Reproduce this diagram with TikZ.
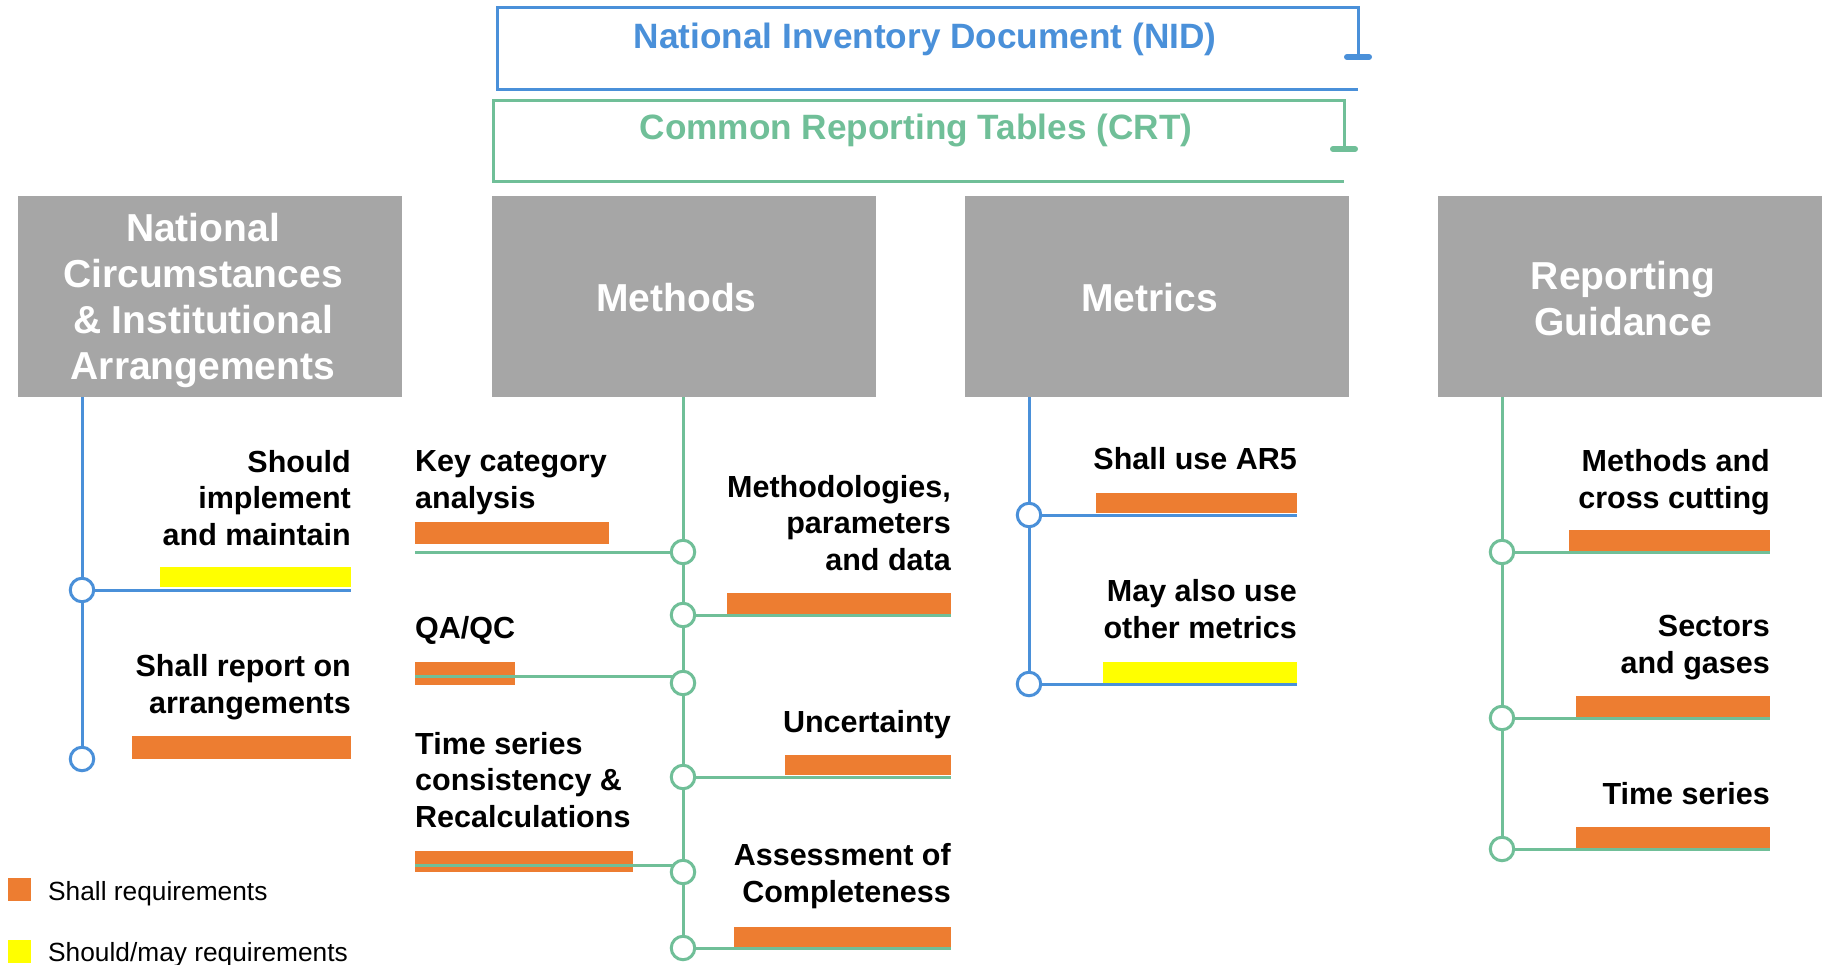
\documentclass[tikz,border=0pt]{standalone}
\usepackage{fontspec}
\setmainfont{Liberation Sans}
\pgfdeclarelayer{bg}
\pgfsetlayers{bg,main}

\definecolor{blueL}{RGB}{74,144,217}
\definecolor{greenL}{RGB}{112,191,152}
\definecolor{orng}{RGB}{237,125,49}
\definecolor{yel}{RGB}{255,255,0}
\definecolor{hgrey}{RGB}{166,166,166}

\newcommand\hdrfont{\bfseries\fontsize{39}{46}\selectfont}
\newcommand\itmfont{\bfseries\fontsize{30.5}{36.5}\selectfont}
\newcommand\ttlfont{\bfseries\fontsize{35.2}{40}\selectfont}
\newcommand\legfont{\fontsize{26.3}{30}\selectfont}

\begin{document}
\begin{tikzpicture}[x=1pt,y=-1pt,
  hbox/.style={fill=hgrey, inner sep=0pt, minimum width=384pt, minimum height=201pt},
  htext/.style={text=white, font=\hdrfont, align=center, inner sep=0pt},
  % multi-line labels: the base anchor sits on the last line
  lblR/.style={anchor=base east, align=right, font=\itmfont, inner sep=0pt},
  lblL/.style={anchor=base west, align=left, font=\itmfont, inner sep=0pt},
  knotB/.style={circle, draw=blueL, fill=white, line width=3pt,
    minimum size=23.5pt, inner sep=0pt},
  knotG/.style={circle, draw=greenL, fill=white, line width=3pt,
    minimum size=23.5pt, inner sep=0pt},
  bline/.style={draw=blueL, line width=3pt},
  gline/.style={draw=greenL, line width=3pt},
  tick/.style={line width=6pt, line cap=round},
  legsq/.style={minimum size=23pt, inner sep=0pt, anchor=north west}]

\useasboundingbox (0,0) rectangle (1822,965);

% ---- document frames at the top ----
\draw[blueL, line width=3pt] (1358,57) -- (1358,8) -- (497,8) -- (497,90) -- (1358,90);
\draw[blueL, tick] (1347,57) -- (1369,57);
\node[anchor=base, font=\ttlfont, text=blueL, inner sep=0pt] (nid) at (925,49)
  {National Inventory Document (NID)};

\draw[greenL, line width=3pt] (1344,149) -- (1344,101) -- (493,101) -- (493,182) -- (1344,182);
\draw[greenL, tick] (1333,149) -- (1355,149);
\node[anchor=base, font=\ttlfont, text=greenL, inner sep=0pt] (crt) at (916,140)
  {Common Reporting Tables (CRT)};

% ---- column headers ----
\node[hbox] (nc)  at (210,296.5) {};
\node[hbox] (met) at (683.5,296.5) {};
\node[hbox] (mtr) at (1156.5,296.5) {};
\node[hbox, minimum width=385pt] (rg) at (1630,296.5) {};

\node[htext] (nct) at ([shift={(-7,4)}]nc.center) {National\\Circumstances\\\& Institutional\\Arrangements};
\node[htext] (mett) at ([shift={(-7,1)}]met.center) {Methods};
\node[htext] (mtrt) at ([shift={(-7,1)}]mtr.center) {Metrics};
\node[htext] (rgt) at ([shift={(-7,2)}]rg.center) {Reporting\\Guidance};

% ---- junction circles ----
\node[knotB] (a1) at (82,590) {};
\node[knotB] (a2) at (82,759) {};

\node[knotG] (m1) at (683,552) {};
\node[knotG] (m2) at (683,615) {};
\node[knotG] (m3) at (683,683) {};
\node[knotG] (m4) at (683,777) {};
\node[knotG] (m5) at (683,872) {};
\node[knotG] (m6) at (683,948) {};

\node[knotB] (t1) at (1029,515) {};
\node[knotB] (t2) at (1029,684) {};

\node[knotG] (r1) at (1502,552) {};
\node[knotG] (r2) at (1502,718) {};
\node[knotG] (r3) at (1502,849) {};

% ---- line ends ----
\coordinate (aR) at (351,0);
\coordinate (mR) at (951,0);
\coordinate (tR) at (1297,0);
\coordinate (rR) at (1770,0);
\coordinate (kcaL) at (415,552);
\coordinate (qaL)  at (415,676);
\coordinate (tsL)  at (415,865);

% ---- labels (positions give the last baseline) ----
\node[lblR] (l1) at (351,545) {Should\\implement\\and maintain};
\node[lblR] (l2) at (351,713) {Shall report on\\arrangements};

\node[lblL] (l3) at (415,508) {Key category\\analysis};
\node[lblR] (l4) at (951,570) {Methodologies,\\parameters\\and data};
\node[lblL] (l5) at (415,638) {QA/QC};
\node[lblR] (l6) at (951,732) {Uncertainty};
\node[lblL] (l7) at (415,827) {Time series\\consistency \&\\Recalculations};
\node[lblR] (l8) at (951,902) {Assessment of\\Completeness};

\node[lblR] (l9)  at (1297,469) {Shall use AR5};
\node[lblR] (l10) at (1297,638) {May also use\\other metrics};

\node[lblR] (l11) at (1770,508) {Methods and\\cross cutting};
\node[lblR] (l12) at (1770,673) {Sectors\\and gases};
\node[lblR] (l13) at (1770,804) {Time series};

% ---- legend ----
\node[legsq, fill=orng] (lgo) at (8,878) {};
\node[legsq, fill=yel]  (lgy) at (8,940) {};
\node[anchor=base west, font=\legfont, inner sep=0pt] (lg1) at (48,900) {Shall requirements};
\node[anchor=base west, font=\legfont, inner sep=0pt] (lg2) at (48,961) {Should/may requirements};

\begin{pgfonlayer}{bg}
  % requirement bars
  \fill[yel]  (160,567) rectangle (351,587);
  \fill[orng] (132,736) rectangle (351,759);

  \fill[orng] (415,522) rectangle (609,544);
  \fill[orng] (727,593) rectangle (951,614);
  \fill[orng] (415,662) rectangle (515,685);
  \fill[orng] (785,755) rectangle (951,775);
  \fill[orng] (415,851) rectangle (633,872);
  \fill[orng] (734,927) rectangle (951,947);

  \fill[orng] (1096,493) rectangle (1297,513);
  \fill[yel]  (1103,662) rectangle (1297,683);

  \fill[orng] (1569,530) rectangle (1770,552);
  \fill[orng] (1576,696) rectangle (1770,718);
  \fill[orng] (1576,827) rectangle (1770,848);

  % trunks
  \draw[bline] (nc.south -| a1) -- (a2.center);
  \draw[gline] (met.south -| m1) -- (m6.center);
  \draw[bline] (mtr.south -| t1) -- (t2.center);
  \draw[gline] (rg.south -| r1) -- (r3.center);

  % branches
  \draw[bline] (a1.center) -- (a1 -| aR);

  \draw[gline] (kcaL) -- (m1.center);
  \draw[gline] (m2.center) -- (m2 -| mR);
  \draw[gline] (qaL) -- (qaL -| m3);
  \draw[gline] (m4.center) -- (m4 -| mR);
  \draw[gline] (tsL) -- (tsL -| m5);
  \draw[gline] (m6.center) -- (m6 -| mR);

  \draw[bline] (t1.center) -- (t1 -| tR);
  \draw[bline] (t2.center) -- (t2 -| tR);

  \draw[gline] (r1.center) -- (r1 -| rR);
  \draw[gline] (r2.center) -- (r2 -| rR);
  \draw[gline] (r3.center) -- (r3 -| rR);
\end{pgfonlayer}
\end{tikzpicture}
\end{document}
